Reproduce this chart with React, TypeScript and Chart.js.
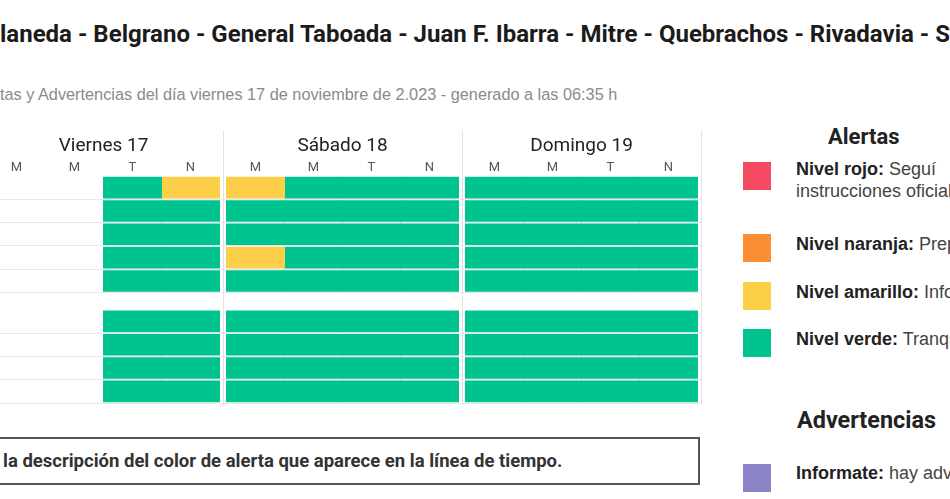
import React, { useEffect, useRef } from "react";
import { Chart, registerables } from "chart.js";

Chart.register(...registerables);

// ---- data ----
const days = ["Viernes 17", "Sábado 18", "Domingo 19"];
const periods = ["M", "M", "T", "N"];

// alert level per row: Viernes M,M,T,N | Sábado M,M,T,N | Domingo M,M,T,N (null = sin dato)
const fila1 = [null, null, "verde", "amarillo", "amarillo", "verde", "verde", "verde", "verde", "verde", "verde", "verde"];
const fila2 = [null, null, "verde", "verde", "verde", "verde", "verde", "verde", "verde", "verde", "verde", "verde"];
const fila3 = [null, null, "verde", "verde", "verde", "verde", "verde", "verde", "verde", "verde", "verde", "verde"];
const fila4 = [null, null, "verde", "verde", "amarillo", "verde", "verde", "verde", "verde", "verde", "verde", "verde"];
const fila5 = [null, null, "verde", "verde", "verde", "verde", "verde", "verde", "verde", "verde", "verde", "verde"];
const fila6 = [null, null, "verde", "verde", "verde", "verde", "verde", "verde", "verde", "verde", "verde", "verde"];
const fila7 = [null, null, "verde", "verde", "verde", "verde", "verde", "verde", "verde", "verde", "verde", "verde"];
const fila8 = [null, null, "verde", "verde", "verde", "verde", "verde", "verde", "verde", "verde", "verde", "verde"];
const fila9 = [null, null, "verde", "verde", "verde", "verde", "verde", "verde", "verde", "verde", "verde", "verde"];
const rowGroup = [0, 0, 0, 0, 0, 1, 1, 1, 1];

const levelColors: Record<string, string> = {
  rojo: "#f44b63",
  naranja: "#fc8e34",
  amarillo: "#fdcf48",
  verde: "#00c48f",
};
const advertenciaColor = "#8c84c8";

// ---- layout constants ----
const DAY_GAP = 0.121; // gap between days, in period units
const GROUP_GAP = 0.73; // gap between row groups, in row units

function TimelineChart() {
  const ref = useRef<HTMLCanvasElement | null>(null);
  useEffect(() => {
    if (!ref.current) return;
    const rows = [fila1, fila2, fila3, fila4, fila5, fila6, fila7, fila8, fila9];
    const rowPos = rows.map((_, i) => i + rowGroup[i] * GROUP_GAP);
    const nP = periods.length;
    const span = nP + DAY_GAP;
    const colStart = (c: number) => Math.floor(c / nP) * span + (c % nP);
    const xMin = -DAY_GAP / 2;
    const xMax = days.length * span - DAY_GAP / 2;
    const nCols = days.length * nP;

    const datasets = Array.from({ length: nCols }, (_, c) => ({
      data: rows
        .map((r, i) => (r[c] ? { x: [colStart(c), colStart(c) + 1], y: rowPos[i], level: r[c] } : null))
        .filter(Boolean) as any[],
      backgroundColor: (ctx: any) => levelColors[ctx.raw?.level] ?? "transparent",
      grouped: false,
      barThickness: 20.6,
      inflateAmount: 0.5,
      borderWidth: 0,
    }));

    const dividers = {
      id: "dayDividers",
      beforeDatasetsDraw(chart: any) {
        const { ctx, chartArea, scales } = chart;
        const top = scales.xDay.top - 2;
        ctx.save();
        ctx.strokeStyle = "#e2e2e2";
        ctx.lineWidth = 1;
        for (let k = 0; k <= days.length; k++) {
          const px = Math.round(scales.x.getPixelForValue(xMin + k * span)) + 0.5;
          ctx.beginPath();
          ctx.moveTo(px, top);
          ctx.lineTo(px, chartArea.bottom + 2);
          ctx.stroke();
        }
        ctx.restore();
      },
    };

    Chart.defaults.font.family = "Roboto";
    const chart = new Chart(ref.current, {
      type: "bar",
      data: { datasets },
      plugins: [dividers],
      options: {
        indexAxis: "y",
        responsive: false,
        animation: false,
        layout: { padding: { top: 12.6, right: 3, bottom: 7, left: 0 } },
        plugins: { legend: { display: false }, tooltip: { enabled: false } },
        scales: {
          x: { type: "linear", min: xMin, max: xMax, display: false, offset: false },
          y: {
            type: "linear",
            reverse: true,
            offset: false,
            min: -0.5,
            max: rowPos[rowPos.length - 1] + 0.5,
            afterBuildTicks: (s: any) => {
              s.ticks = rowPos.map((p) => ({ value: p + 0.5 }));
            },
            grid: { color: "#e9e9e9", drawTicks: false, offset: false },
            border: { display: false },
            ticks: { display: false },
          },
          xPer: {
            type: "linear",
            axis: "x",
            position: "top",
            weight: 0,
            offset: false,
            min: xMin,
            max: xMax,
            afterBuildTicks: (s: any) => {
              s.ticks = Array.from({ length: nCols }, (_, c) => ({ value: colStart(c) + 0.5 }));
            },
            ticks: {
              callback: (_v: any, i: number) => periods[i % nP],
              font: { size: 13 },
              color: "#555",
              padding: 0.7,
              autoSkip: false,
              maxRotation: 0,
            },
            grid: { display: false, drawTicks: false },
            border: { display: false },
          },
          xDay: {
            type: "linear",
            axis: "x",
            position: "top",
            weight: 1,
            offset: false,
            min: xMin,
            max: xMax,
            afterBuildTicks: (s: any) => {
              s.ticks = days.map((_, d) => ({ value: d * span + nP / 2 }));
            },
            ticks: {
              callback: (_v: any, i: number) => days[i],
              font: { size: 19 },
              color: "#222",
              padding: 1.8,
              autoSkip: false,
              maxRotation: 0,
            },
            grid: { display: false, drawTicks: false },
            border: { display: false },
          },
        } as any,
      },
    });
    return () => chart.destroy();
  }, []);
  return <canvas ref={ref} width={720} height={290} style={{ display: "block" }} />;
}

const abs = (s: React.CSSProperties): React.CSSProperties => ({ position: "absolute", whiteSpace: "nowrap", ...s });

export default function App() {
  const legendFont = "'Liberation Sans', Arial, sans-serif";
  const itemText = (top: number, label: string, text: string) => (
    <div style={abs({ left: 796, top, fontFamily: legendFont, fontSize: 18, lineHeight: "22px", color: "#444" })}>
      {label ? <b style={{ color: "#222" }}>{label}</b> : null} {text}
    </div>
  );
  const square = (top: number, color: string) => (
    <div style={abs({ left: 743, top, width: 28, height: 28, background: color })} />
  );
  return (
    <div style={{ position: "fixed", left: 0, top: 0, width: 950, height: 499, overflow: "hidden", background: "#fff" }}>
      <div style={abs({ left: 0, top: 20, fontFamily: "Roboto", fontWeight: 700, fontSize: 24, lineHeight: "28px", color: "#1b1b1b" })}>
        <span style={{ position: "absolute", right: "100%" }}>Avel</span>
        laneda - Belgrano - General Taboada - Juan F. Ibarra - Mitre - Quebrachos - Rivadavia - Sarmiento
      </div>
      <div style={abs({ left: 0, top: 85, fontFamily: legendFont, fontSize: 16.3, lineHeight: "18px", color: "#8a8a8a" })}>
        <span style={{ position: "absolute", right: "100%" }}>Aler</span>
        tas y Advertencias del día viernes 17 de noviembre de 2.023 - generado a las 06:35 h
      </div>

      <div style={abs({ left: -16, top: 120 })}>
        <TimelineChart />
      </div>

      <div
        style={abs({
          left: -10,
          top: 437,
          width: 710,
          height: 48,
          boxSizing: "border-box",
          border: "2px solid #555",
          fontFamily: "Roboto",
          fontWeight: 700,
          fontSize: 18.5,
          lineHeight: "44px",
          color: "#333",
          paddingLeft: 11,
        })}
      >
        la descripción del color de alerta que aparece en la línea de tiempo.
      </div>

      <div style={abs({ left: 828, top: 124, fontFamily: "Roboto", fontWeight: 700, fontSize: 22, lineHeight: "26px", color: "#222" })}>
        Alertas
      </div>
      {square(162, levelColors.rojo)}
      {square(234, levelColors.naranja)}
      {square(282, levelColors.amarillo)}
      {square(329, levelColors.verde)}
      {itemText(157.5, "Nivel rojo:", "Seguí")}
      {itemText(179.5, "", "instrucciones oficiales")}
      {itemText(232.5, "Nivel naranja:", "Preparate")}
      {itemText(280.5, "Nivel amarillo:", "Informate")}
      {itemText(327.5, "Nivel verde:", "Tranquilidad")}

      <div style={abs({ left: 797, top: 406, fontFamily: "Roboto", fontWeight: 700, fontSize: 23.4, lineHeight: "28px", color: "#222" })}>
        Advertencias
      </div>
      {square(464, advertenciaColor)}
      {itemText(461.5, "Informate:", "hay advertencias")}
    </div>
  );
}
